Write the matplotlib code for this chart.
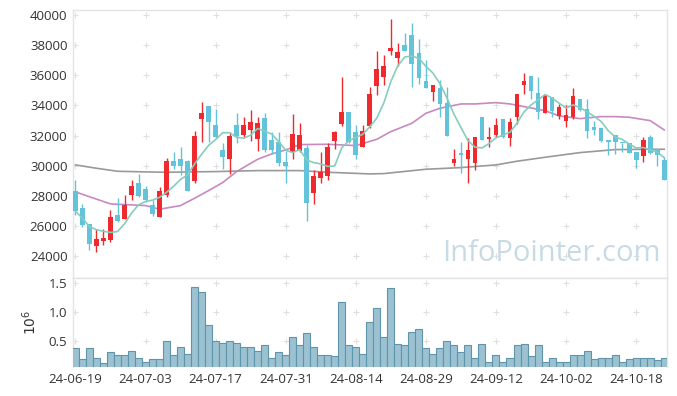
import numpy as np
import matplotlib
matplotlib.use("Agg")
import matplotlib.pyplot as plt

# daily OHLC
opens = [28309, 27204, 26143, 24707, 25038, 25105, 26740, 26497, 28088, 28862,
         28464, 27403, 26585, 28088, 30320, 30431, 30320, 28994, 33083, 33989,
         32685, 31050, 30475, 32685, 32044, 32376, 31801, 33171, 31713, 31580,
         30254, 30939, 31005, 31182, 28221, 29215, 29326, 31624, 32773, 33569,
         32243, 31271, 32641, 35293, 35867, 37635, 37171, 38011, 38674, 37503,
         35624, 34917, 35160, 34143, 30166, 30851, 30475, 30210, 33237, 31801,
         32066, 33105, 31823, 33215, 35381, 35956, 34807, 33525, 34563, 33326,
         32994, 33259, 34431, 33746, 32574, 32508, 31713, 32044, 31536, 31536,
         30917, 30630, 31911, 31094, 30387]
highs = [29060, 27469, 26150, 25834, 25790, 27049, 27845, 28088, 29060, 29458,
         28663, 27712, 28619, 30497, 30917, 31248, 30390, 32309, 34210, 33989,
         33768, 31492, 32265, 33525, 33237, 33701, 33237, 33480, 32265, 32265,
         30983, 33414, 32818, 31403, 29746, 30895, 31492, 32287, 35889, 33569,
         32685, 32685, 35204, 37635, 37326, 39713, 38166, 38829, 39447, 38387,
         36994, 35359, 35691, 35204, 31138, 31580, 31823, 31911, 33237, 32597,
         33149, 33105, 33149, 34762, 36133, 35956, 35867, 34696, 34563, 34121,
         34011, 35138, 34431, 34409, 32950, 32508, 31713, 32044, 31536, 31536,
         30917, 31911, 32066, 31094, 30608]
lows = [26740, 25966, 24420, 24265, 24773, 24928, 26254, 26497, 27712, 27955,
        27580, 26696, 26585, 27911, 29768, 29392, 28353, 28884, 31558, 31558,
        31823, 29768, 29436, 31492, 31845, 31624, 31005, 30917, 30784, 29989,
        28884, 30475, 30939, 26320, 27447, 28884, 29060, 31138, 32641, 31492,
        30475, 31271, 32508, 34696, 35337, 37348, 36619, 37635, 35204, 35403,
        35182, 34320, 33259, 31977, 30011, 29503, 28840, 29701, 31735, 31226,
        31889, 31845, 31315, 32773, 34740, 34409, 33127, 33481, 33259, 33127,
        32597, 33127, 33657, 31823, 32066, 31602, 30696, 30762, 30895, 30828,
        29834, 30232, 30784, 30011, 29061]
closes = [26983, 26055, 24839, 25149, 25237, 26607, 26364, 27403, 28663, 27999,
          27712, 26828, 28331, 30320, 29989, 29989, 28353, 31977, 33503, 32928,
          31934, 30608, 31977, 31977, 32685, 32906, 32818, 31050, 31050, 30188,
          30011, 32088, 32044, 27557, 29326, 29591, 31248, 32243, 33569, 31580,
          30740, 32309, 34762, 36420, 36619, 37834, 37569, 37635, 36729, 35845,
          35182, 35359, 34121, 31977, 30475, 30740, 31050, 31911, 31735, 31911,
          32685, 31889, 32906, 34762, 35624, 34983, 33547, 34696, 33635, 33900,
          33348, 34608, 33724, 32331, 32376, 31668, 31580, 31602, 31492, 30873,
          30364, 31713, 30828, 30740, 29061]

# trading volume, millions of shares
volumes = [0.37, 0.18, 0.37, 0.21, 0.11, 0.30, 0.25, 0.26, 0.33, 0.20,
           0.14, 0.18, 0.18, 0.49, 0.25, 0.39, 0.28, 1.44, 1.35, 0.78,
           0.49, 0.47, 0.49, 0.47, 0.39, 0.40, 0.33, 0.42, 0.20, 0.30,
           0.25, 0.57, 0.42, 0.64, 0.39, 0.26, 0.26, 0.23, 1.18, 0.42,
           0.39, 0.28, 0.82, 1.07, 0.56, 1.42, 0.44, 0.42, 0.66, 0.70,
           0.37, 0.28, 0.37, 0.49, 0.42, 0.30, 0.42, 0.21, 0.45, 0.14,
           0.25, 0.13, 0.20, 0.42, 0.44, 0.23, 0.42, 0.14, 0.20, 0.13,
           0.13, 0.26, 0.26, 0.33, 0.18, 0.20, 0.21, 0.25, 0.14, 0.18,
           0.20, 0.20, 0.21, 0.16, 0.21]

# 20-day moving average (purple), sampled at these candles
ma20_idx = [0, 5, 10, 12, 15, 17, 19, 21, 23, 26, 28, 30, 32, 36, 40, 43, 45,
            48, 50, 52, 55, 57, 60, 62, 64, 67, 69, 72, 75, 77, 79, 82, 84]
ma20_val = [28265, 27469, 27359, 27116, 27359, 27845, 28353, 28884, 29613,
            30431, 30784, 31050, 31403, 31425, 31337, 31757, 32265, 32818,
            33480, 33812, 34099, 34099, 34188, 34099, 33922, 33657, 33304,
            33127, 33259, 33259, 33215, 32994, 32376]

# long moving average (gray)
malong_idx = [0, 3, 6, 10, 13, 20, 26, 32, 36, 42, 44, 50, 55, 60, 63, 67,
              72, 77, 82, 84]
malong_val = [30055, 29834, 29635, 29591, 29569, 29613, 29679, 29679, 29569,
              29458, 29480, 29768, 29878, 30055, 30300, 30563, 30873, 31072,
              31094, 31094]

tick_labels = ['24-06-19', '24-07-03', '24-07-17', '24-07-31', '24-08-14',
               '24-08-29', '24-09-12', '24-10-02', '24-10-18']

plt.rcParams['font.family'] = ['Open Sans', 'DejaVu Sans']

n = len(closes)
x = np.arange(n)
o = np.array(opens, dtype=float)
c = np.array(closes, dtype=float)
h = np.array(highs, dtype=float)
l = np.array(lows, dtype=float)
up = c >= o

RED = '#ee2a2f'
BLUE = '#62c3da'
SPINE = '#e4e4e4'

fig = plt.figure(figsize=(6.77, 3.96), dpi=100)
ax = fig.add_axes([73 / 677, 1 - 278 / 396, 594 / 677, 268 / 396])
axv = fig.add_axes([73 / 677, 1 - 367 / 396, 594 / 677, 89 / 396], sharex=ax)

# candles
colors = np.where(up, RED, BLUE)
ax.vlines(x, l, h, colors=colors, linewidth=1.0, zorder=3)
body_lo = np.minimum(o, c)
body_h = np.maximum(np.abs(c - o), 60)
ax.bar(x, body_h, bottom=body_lo, width=0.68, color=colors, linewidth=0, zorder=4)

# moving averages
ma5 = np.array([c[max(0, i - 4):i + 1].mean() for i in range(n)])
ax.plot(x, ma5, color='#86cdbf', linewidth=1.2, zorder=5)
ax.plot(ma20_idx, ma20_val, color='#c889c2', linewidth=1.2, zorder=2)
ax.plot(malong_idx, malong_val, color='#999999', linewidth=1.2, zorder=2)

ax.set_xlim(-0.35, n - 1 + 0.4)
ax.set_ylim(22555, 40330)
yt = np.arange(24000, 40001, 2000)
ax.set_yticks(yt)
ax.set_yticklabels([str(v) for v in yt])

xt = np.arange(0, n, 10)
ax.set_xticks(xt)
plt.setp(ax.get_xticklabels(), visible=False)

# grid crosses
gx, gy = np.meshgrid(xt, yt)
ax.scatter(gx.ravel(), gy.ravel(), marker='+', s=14, color='#e0e0e0',
           linewidths=0.8, zorder=1)

ax.text(0.805, 0.09, 'InfoPointer.com', transform=ax.transAxes,
        ha='center', va='center', fontsize=21, color='#c8dbe5', zorder=6)

# volume
axv.bar(x, volumes, width=1.0, color='#9cc2d2', edgecolor='#5e95ad',
        linewidth=0.8, zorder=3)
axv.set_ylim(0.047, 1.59)
vt = [0.5, 1.0, 1.5]
axv.set_yticks(vt)
axv.set_yticklabels(['0.5', '1.0', '1.5'])
axv.set_xticks(xt)
axv.set_xticklabels(tick_labels)
gx, gy = np.meshgrid(xt, vt)
axv.scatter(gx.ravel(), gy.ravel(), marker='+', s=14, color='#e0e0e0',
            linewidths=0.8, zorder=1)
axv.set_ylabel('$10^6$', fontsize=10, color='#333333', labelpad=6)

for a in (ax, axv):
    a.tick_params(length=0, labelsize=9.5, labelcolor='#333333', pad=4)
    for s in a.spines.values():
        s.set_color(SPINE)
        s.set_linewidth(1.0)
axv.spines['bottom'].set_visible(False)

fig.savefig('out.png', dpi=100)
